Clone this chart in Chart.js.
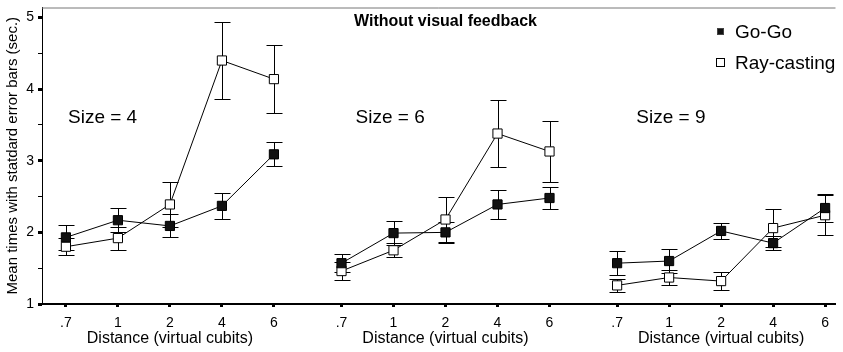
<!DOCTYPE html>
<html>
<head>
<meta charset="utf-8">
<script src="https://cdn.jsdelivr.net/npm/chart.js@4/dist/chart.umd.min.js"></script>
<style>
  html, body { margin: 0; padding: 0; background: #fff; }
  #wrap { width: 843px; height: 352px; }
</style>
</head>
<body>
<div id="wrap"><canvas id="chart"></canvas></div>
<script>
// distances per panel, panel labels
const distances = [".7", "1", "2", "4", "6"];
const sizeLabels = ["Size = 4", "Size = 6", "Size = 9"];

// means and standard errors, panel by panel (size 4, 6, 9)
const goGoMeans  = [1.93, 2.17, 2.09, 2.37, 3.09,  1.57, 1.99, 2.00, 2.39, 2.48,  1.57, 1.60, 2.02, 1.85, 2.34];
const goGoErrors = [0.18, 0.17, 0.16, 0.18, 0.17,  0.13, 0.17, 0.15, 0.20, 0.16,  0.17, 0.17, 0.11, 0.10, 0.20];
const rayMeans   = [1.80, 1.92, 2.39, 4.40, 4.14,  1.46, 1.75, 2.18, 3.38, 3.13,  1.26, 1.37, 1.32, 2.06, 2.24];
const rayErrors  = [0.12, 0.16, 0.31, 0.54, 0.47,  0.13, 0.10, 0.32, 0.47, 0.42,  0.09, 0.11, 0.12, 0.26, 0.28];

const yTicks = [1, 1.5, 2, 2.5, 3, 3.5, 4, 4.5, 5];

const chartTitle = "Without visual feedback";
const xTitle = "Distance (virtual cubits)";
const yTitle = "Mean times with statdard error bars (sec.)";

// layout of the three panels on one linear x axis
const GROUP_STEP = 5.3;
const sizeLabelX = [0.04, 5.57, 10.97];
const sizeLabelY = 3.6;
const FONT = "'Liberation Sans', Arial, sans-serif";

const tickPositions = [];
for (let k = 0; k < goGoMeans.length; k++) {
    tickPositions.push(Math.floor(k / 5) * GROUP_STEP + (k % 5));
}

// points with a null between panels so the lines break
function buildPoints(means, errors) {
    const pts = [];
    means.forEach((m, k) => {
        const g = Math.floor(k / 5), i = k % 5;
        if (k > 0 && i === 0) pts.push({ x: g * GROUP_STEP - 0.6, y: null });
        pts.push({ x: g * GROUP_STEP + i, y: m, err: errors[k] });
    });
    return pts;
}

const errorBars = {
    id: "errorBars",
    beforeDatasetsDraw(chart) {
        const { ctx, scales: { y } } = chart;
        ctx.save();
        ctx.strokeStyle = "#000";
        ctx.lineWidth = 1;
        chart.data.datasets.forEach((ds, di) => {
            const meta = chart.getDatasetMeta(di);
            ds.data.forEach((p, j) => {
                if (p.y == null) return;
                const px = Math.round(meta.data[j].x) + 0.5;
                const top = Math.round(y.getPixelForValue(p.y + p.err)) + 0.5;
                const bot = Math.round(y.getPixelForValue(p.y - p.err)) + 0.5;
                ctx.beginPath();
                ctx.moveTo(px, top); ctx.lineTo(px, bot);
                ctx.moveTo(px - 8, top); ctx.lineTo(px + 8, top);
                ctx.moveTo(px - 8, bot); ctx.lineTo(px + 8, bot);
                ctx.stroke();
            });
        });
        ctx.restore();
    }
};

const decorations = {
    id: "decorations",
    afterDraw(chart) {
        const { ctx, chartArea: a, scales: { x, y } } = chart;
        ctx.save();

        // frame line along the top
        ctx.strokeStyle = "#777";
        ctx.lineWidth = 1;
        ctx.beginPath();
        ctx.moveTo(a.left, a.top + 0.5);
        ctx.lineTo(a.right, a.top + 0.5);
        ctx.stroke();

        ctx.fillStyle = "#000";
        ctx.textBaseline = "middle";

        // title
        ctx.font = "bold 16px " + FONT;
        ctx.textAlign = "center";
        ctx.fillText(chartTitle, x.getPixelForValue(GROUP_STEP + 2), 22);

        // panel labels
        ctx.font = "19px " + FONT;
        ctx.textAlign = "left";
        sizeLabels.forEach((s, g) => {
            ctx.fillText(s, x.getPixelForValue(sizeLabelX[g]), y.getPixelForValue(sizeLabelY));
        });

        // one axis title under each panel
        ctx.font = "16px " + FONT;
        ctx.textAlign = "center";
        sizeLabels.forEach((s, g) => {
            ctx.fillText(xTitle, x.getPixelForValue(g * GROUP_STEP + 2), 339);
        });

        // legend
        ctx.font = "19px " + FONT;
        ctx.textAlign = "left";
        const rows = [32, 63];
        chart.data.datasets.forEach((ds, di) => {
            const cy = rows[di];
            const s = di === 0 ? 6 : 8;
            const x0 = 720.5 - s / 2, y0 = cy - s / 2 - 0.5;
            ctx.fillStyle = ds.pointBackgroundColor;
            ctx.fillRect(x0, y0, s, s);
            ctx.strokeStyle = di === 0 ? "#444" : "#000";
            ctx.strokeRect(x0, y0, s, s);
            ctx.fillStyle = "#000";
            ctx.fillText(ds.label, 735, cy + 1);
        });

        ctx.restore();
    }
};

new Chart(document.getElementById("chart"), {
    type: "line",
    data: {
        datasets: [
            {
                label: "Go-Go",
                data: buildPoints(goGoMeans, goGoErrors),
                borderColor: "#000",
                borderWidth: 1,
                pointStyle: "rect",
                pointRadius: 6.5,
                pointBackgroundColor: "#111",
                pointBorderColor: "#000",
                pointBorderWidth: 1,
                spanGaps: false
            },
            {
                label: "Ray-casting",
                data: buildPoints(rayMeans, rayErrors),
                borderColor: "#000",
                borderWidth: 1,
                pointStyle: "rect",
                pointRadius: 6.5,
                pointBackgroundColor: "#fff",
                pointBorderColor: "#000",
                pointBorderWidth: 1,
                spanGaps: false
            }
        ]
    },
    options: {
        responsive: true,
        maintainAspectRatio: false,
        animation: false,
        layout: { padding: { top: 6, right: 0, bottom: 0, left: 0 } },
        plugins: {
            legend: { display: false },
            tooltip: { enabled: false }
        },
        scales: {
            x: {
                type: "linear",
                min: -0.46,
                max: 14.8,
                afterBuildTicks: scale => {
                    scale.ticks = tickPositions.map(v => ({ value: v }));
                },
                afterFit: scale => {
                    scale.height = 48;
                    scale.paddingLeft = 0;
                    scale.paddingRight = 0;
                },
                ticks: {
                    autoSkip: false,
                    maxRotation: 0,
                    padding: 8,
                    color: "#000",
                    font: { family: FONT, size: 14 },
                    callback: (v, i) => distances[i % 5]
                },
                grid: {
                    drawOnChartArea: false,
                    tickLength: 3,
                    tickWidth: 3,
                    tickColor: "#000"
                },
                border: { display: true, color: "#000", width: 2 }
            },
            y: {
                type: "linear",
                min: 1,
                max: 5.14,
                afterBuildTicks: scale => {
                    scale.ticks = yTicks.map(v => ({ value: v }));
                },
                afterFit: scale => {
                    scale.width = 42;
                    scale.paddingTop = 0;
                    scale.paddingBottom = 0;
                },
                ticks: {
                    padding: 4,
                    color: "#000",
                    font: { family: FONT, size: 14 },
                    callback: v => Number.isInteger(v) ? String(v) : ""
                },
                grid: {
                    drawOnChartArea: false,
                    tickLength: 4,
                    tickWidth: ctx => Number.isInteger(ctx.tick.value) ? 3 : 1,
                    tickColor: "#000"
                },
                border: { display: true, color: "#000", width: 1 },
                title: {
                    display: true,
                    text: yTitle,
                    color: "#000",
                    font: { family: FONT, size: 15 },
                    padding: { top: 4, bottom: 0 }
                }
            }
        }
    },
    plugins: [errorBars, decorations]
});
</script>
</body>
</html>
